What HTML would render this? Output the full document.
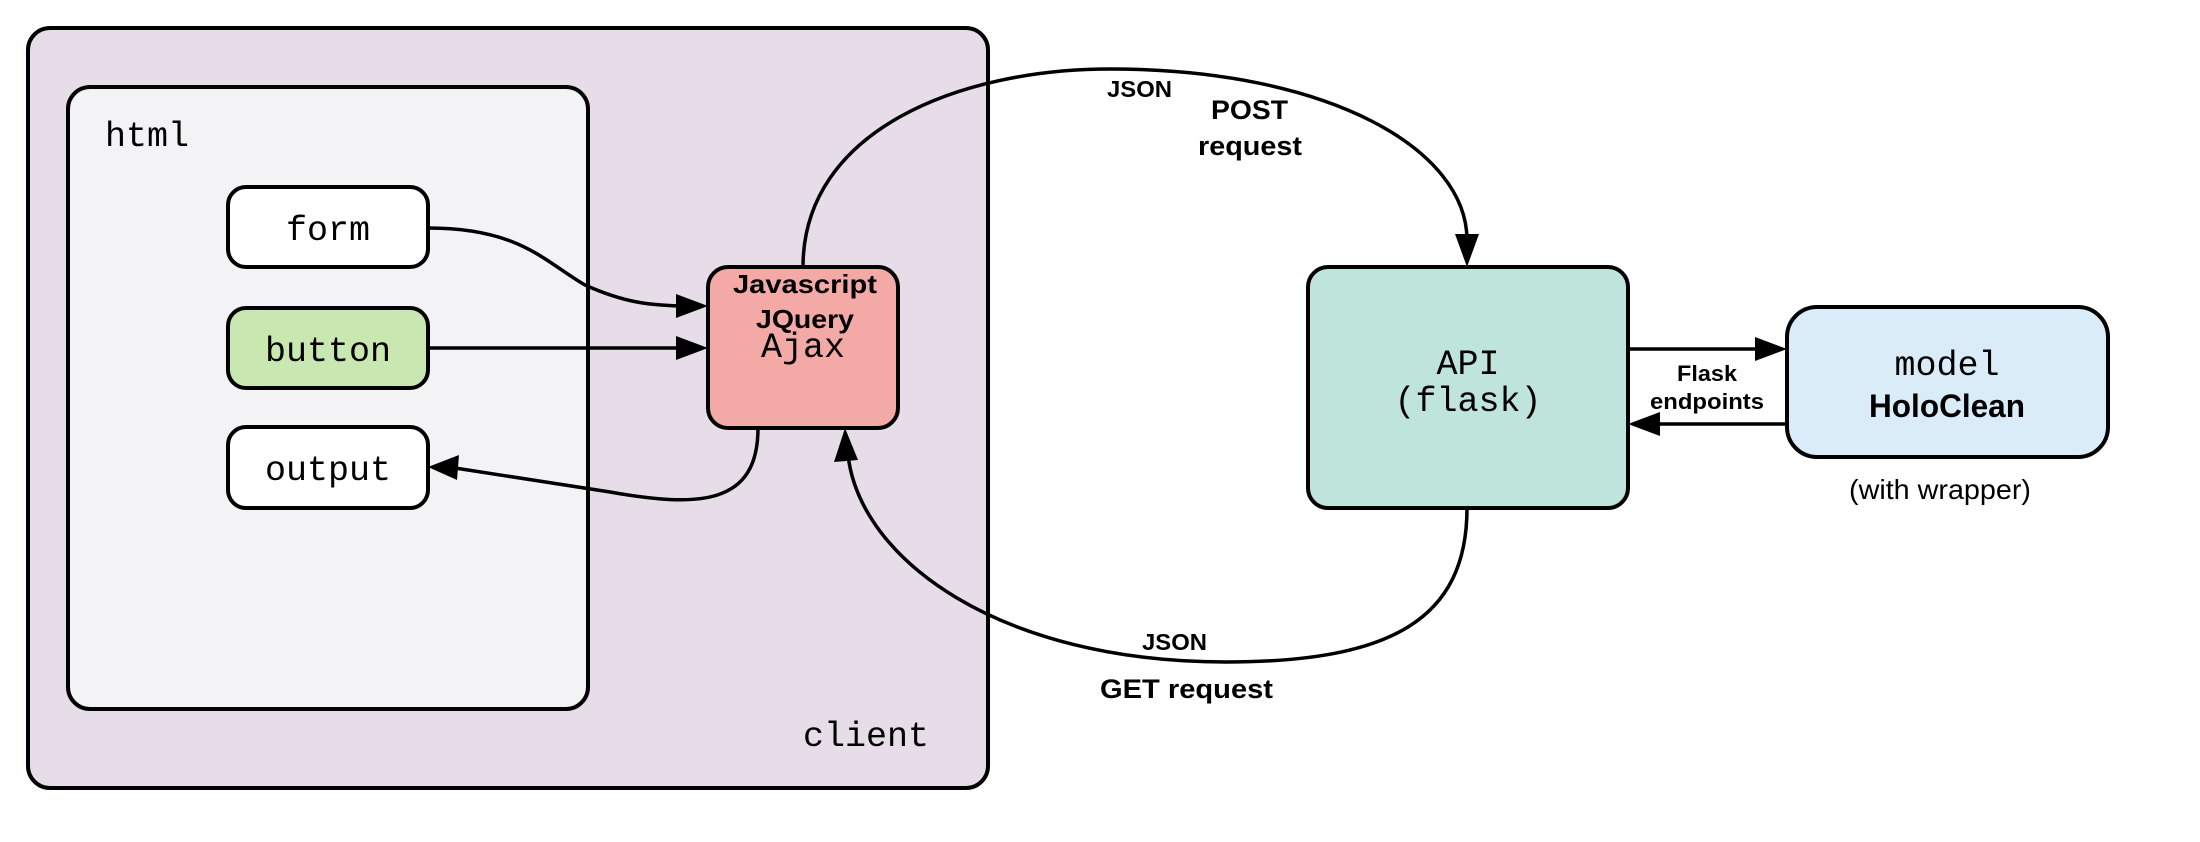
<!DOCTYPE html>
<html><head><meta charset="utf-8"><style>
html,body{margin:0;padding:0;background:#fff;}
svg{display:block;}
.m{font-family:"Liberation Mono",monospace;font-size:35px;fill:#000;}
.b{font-family:"Liberation Sans",sans-serif;font-weight:bold;fill:#000;}
.s{font-family:"Liberation Sans",sans-serif;fill:#000;}
</style></head><body>
<svg width="2200" height="842" viewBox="0 0 2200 842" xmlns="http://www.w3.org/2000/svg">
<defs>
<marker id="ah" markerWidth="10" markerHeight="8" refX="10" refY="4" orient="auto" markerUnits="userSpaceOnUse" viewBox="0 0 10 8">
</marker>
</defs>
<g stroke="#000" stroke-width="4">
<rect x="28" y="28" width="960" height="760" rx="22" fill="#e6dde8"/>
<rect x="68" y="87" width="520" height="622" rx="22" fill="#f3f2f5"/>
<rect x="228" y="187" width="200" height="80" rx="18" fill="#fff"/>
<rect x="228" y="308" width="200" height="80" rx="18" fill="#c9e7b1"/>
<rect x="228" y="427" width="200" height="81" rx="18" fill="#fff"/>
<rect x="708" y="267" width="190" height="161" rx="20" fill="#f3aaa6"/>
<rect x="1308" y="267" width="320" height="241" rx="20" fill="#bfe4dc"/>
<rect x="1787" y="307" width="321" height="150" rx="30" fill="#d9ecf8"/>
</g>
<g fill="none" stroke="#000" stroke-width="3.5">
<path d="M428,228 C520,228 545,262 585,285 C625,303 650,305 680,306"/>
<path d="M428,348 L680,348"/>
<path d="M758,428 C758,505 700,508 610,492 L455,468"/>
<path d="M803,267 C803,130 960,69 1110,69 C1330,69 1467,150 1467,240"/>
<path d="M1467,508 C1467,620 1390,662 1226,662 C1000,662 860,560 848,455"/>
<path d="M1628,349 L1760,349"/>
<path d="M1787,424 L1655,424"/>
</g>
<g fill="#000">
<polygon points="708,306 676,294 676,318"/>
<polygon points="708,348 676,336 676,360"/>
<polygon points="428,467 459,455 457,480"/>
<polygon points="1467,267 1455,234 1479,234"/>
<polygon points="845,428 834,462 858,460"/>
<polygon points="1787,349 1755,337 1755,361"/>
<polygon points="1628,424 1660,412 1660,436"/>
</g>
<text class="m" x="105" y="146">html</text>
<text class="m" x="328" y="240" text-anchor="middle">form</text>
<text class="m" x="328" y="361" text-anchor="middle">button</text>
<text class="m" x="328" y="480" text-anchor="middle">output</text>
<text class="m" x="803" y="746">client</text>
<text class="b" x="733" y="293" font-size="26" textLength="144" lengthAdjust="spacingAndGlyphs">Javascript</text>
<text class="b" x="756" y="328" font-size="26" textLength="98" lengthAdjust="spacingAndGlyphs">JQuery</text>
<text class="m" x="803" y="357" text-anchor="middle">Ajax</text>
<text class="m" x="1468" y="374" text-anchor="middle">API</text>
<text class="m" x="1468" y="411" text-anchor="middle">(flask)</text>
<text class="m" x="1947" y="375" text-anchor="middle">model</text>
<text class="b" x="1869" y="417" font-size="32" textLength="156" lengthAdjust="spacingAndGlyphs">HoloClean</text>
<text class="s" x="1849" y="499" font-size="28" textLength="182" lengthAdjust="spacingAndGlyphs">(with wrapper)</text>
<text class="b" x="1677" y="381" font-size="22" textLength="60" lengthAdjust="spacingAndGlyphs">Flask</text>
<text class="b" x="1650" y="409" font-size="22" textLength="114" lengthAdjust="spacingAndGlyphs">endpoints</text>
<text class="b" x="1107" y="97" font-size="23" textLength="65" lengthAdjust="spacingAndGlyphs">JSON</text>
<text class="b" x="1211" y="119" font-size="27" textLength="77" lengthAdjust="spacingAndGlyphs">POST</text>
<text class="b" x="1198" y="155" font-size="27" textLength="104" lengthAdjust="spacingAndGlyphs">request</text>
<text class="b" x="1142" y="650" font-size="23" textLength="65" lengthAdjust="spacingAndGlyphs">JSON</text>
<text class="b" x="1100" y="698" font-size="27" textLength="173" lengthAdjust="spacingAndGlyphs">GET request</text>
</svg>
</body></html>
